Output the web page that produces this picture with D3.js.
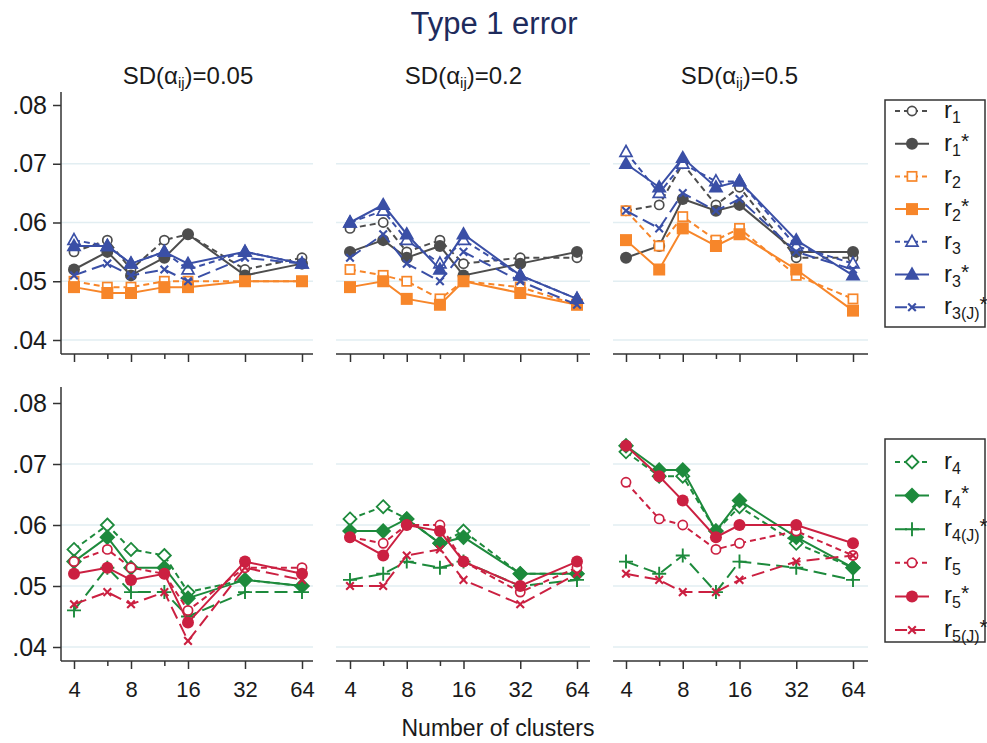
<!DOCTYPE html>
<html><head><meta charset="utf-8">
<script src="https://cdn.jsdelivr.net/npm/d3@7"></script>
<style>body{margin:0;background:#fff}svg{display:block;font-family:"Liberation Sans",Arial,sans-serif}</style>
</head><body><svg id="c" width="987" height="743"></svg>
<script>
// ---------- data ----------
const clusters = [4, 6, 8, 12, 16, 32, 64];
const majorTicks = [4, 8, 16, 32, 64];
const minorTicks = [6, 12];
const xTickLabels = ["4", "8", "16", "32", "64"];
const yTicks = [0.04, 0.05, 0.06, 0.07, 0.08];
const yTickLabels = [".04", ".05", ".06", ".07", ".08"];
const gridTicks = [0.04, 0.05, 0.06, 0.07];
const sdLabels = ["0.05", "0.2", "0.5"];
const chartTitle = "Type 1 error";
const xTitle = "Number of clusters";

// each series: [SD=0.05, SD=0.2, SD=0.5]
const r1 = [[.055,.057,.052,.057,.058,.052,.054],[.059,.060,.055,.057,.053,.054,.054],[.062,.063,.070,.063,.066,.054,.054]];
const r1s = [[.052,.055,.051,.054,.058,.051,.053],[.055,.057,.054,.056,.051,.053,.055],[.054,.056,.064,.062,.063,.055,.055]];
const r2 = [[.050,.049,.049,.050,.050,.050,.050],[.052,.051,.050,.047,.050,.049,.046],[.062,.056,.061,.057,.059,.051,.047]];
const r2s = [[.049,.048,.048,.049,.049,.050,.050],[.049,.050,.047,.046,.050,.048,.046],[.057,.052,.059,.056,.058,.052,.045]];
const r3 = [[.057,.056,.053,.055,.052,.055,.053],[.060,.062,.057,.053,.057,.051,.047],[.072,.065,.070,.067,.067,.056,.053]];
const r3s = [[.056,.056,.053,.055,.053,.055,.053],[.060,.063,.058,.052,.058,.051,.047],[.070,.066,.071,.066,.067,.057,.051]];
const r3J = [[.051,.053,.051,.052,.050,.054,.053],[.054,.058,.053,.050,.055,.050,.046],[.062,.059,.065,.062,.064,.055,.052]];
const r4 = [[.056,.060,.056,.055,.049,.051,.050],[.061,.063,.061,.057,.059,.052,.052],[.072,.068,.068,.059,.063,.057,.053]];
const r4s = [[.054,.058,.053,.053,.048,.051,.050],[.059,.059,.061,.057,.058,.052,.052],[.073,.069,.069,.059,.064,.058,.053]];
const r4J = [[.046,.053,.049,.049,.045,.049,.049],[.051,.052,.054,.053,.054,.050,.051],[.054,.052,.055,.049,.054,.053,.051]];
const r5 = [[.054,.056,.053,.052,.046,.053,.053],[.058,.057,.060,.060,.054,.049,.053],[.067,.061,.060,.056,.057,.059,.055]];
const r5s = [[.052,.053,.051,.052,.044,.054,.052],[.058,.055,.060,.059,.054,.050,.054],[.073,.068,.064,.058,.060,.060,.057]];
const r5J = [[.047,.049,.047,.049,.041,.053,.051],[.050,.050,.055,.056,.051,.047,.052],[.052,.051,.049,.049,.051,.054,.055]];

// ---------- styles ----------
const C = {gray:"#4d4d4d", orange:"#f7862a", blue:"#3a4fa6", green:"#1d8a3c", red:"#cb2041"};
const SHORT = "6,4", LONG = "13,6";
const topSeries = [
  {data:r1,  sub:"1", star:false, color:C.gray,   marker:"ocircle",  dash:SHORT},
  {data:r1s, sub:"1", star:true,  color:C.gray,   marker:"circle",   dash:null},
  {data:r2,  sub:"2", star:false, color:C.orange, marker:"osquare",  dash:SHORT},
  {data:r2s, sub:"2", star:true,  color:C.orange, marker:"square",   dash:null},
  {data:r3,  sub:"3", star:false, color:C.blue,   marker:"otri",     dash:SHORT},
  {data:r3s, sub:"3", star:true,  color:C.blue,   marker:"tri",      dash:null},
  {data:r3J, sub:"3(J)", star:true, color:C.blue, marker:"x",        dash:LONG}
];
const botSeries = [
  {data:r4,  sub:"4", star:false, color:C.green, marker:"odiamond", dash:SHORT},
  {data:r4s, sub:"4", star:true,  color:C.green, marker:"diamond",  dash:null},
  {data:r4J, sub:"4(J)", star:true, color:C.green, marker:"plus",   dash:LONG},
  {data:r5,  sub:"5", star:false, color:C.red,   marker:"ocircle",  dash:SHORT},
  {data:r5s, sub:"5", star:true,  color:C.red,   marker:"circle",   dash:null},
  {data:r5J, sub:"5(J)", star:true, color:C.red, marker:"x",        dash:LONG}
];

// ---------- layout ----------
const svg = d3.select("#c");
const colData = [[74,302],[350,577],[626,853]];
const colAxis = [[61,313],[336,590],[613,868]];
const rows = [
  {range:[340,105], axisY:354, yTop:92,  series:topSeries, labels:false},
  {range:[647,403], axisY:661, yTop:387, series:botSeries, labels:true}
];
const TXT = "#1a1a1a";
const FONT = "Liberation Sans, Arial, sans-serif";

function drawMarker(g, type, color, x, y) {
  const s = g.append("g").attr("transform", `translate(${x},${y})`);
  switch (type) {
    case "circle": s.append("circle").attr("r",6).attr("fill",color); break;
    case "ocircle": s.append("circle").attr("r",4.6).attr("fill","#fff").attr("stroke",color).attr("stroke-width",1.7); break;
    case "square": s.append("rect").attr("x",-6).attr("y",-6).attr("width",12).attr("height",12).attr("fill",color); break;
    case "osquare": s.append("rect").attr("x",-4.6).attr("y",-4.6).attr("width",9.2).attr("height",9.2).attr("fill","#fff").attr("stroke",color).attr("stroke-width",1.7); break;
    case "tri": s.append("path").attr("d","M0,-8L7.5,5.2L-7.5,5.2Z").attr("fill",color); break;
    case "otri": s.append("path").attr("d","M0,-6.5L6,4.3L-6,4.3Z").attr("fill","#fff").attr("stroke",color).attr("stroke-width",1.7); break;
    case "diamond": s.append("path").attr("d","M0,-8L8,0L0,8L-8,0Z").attr("fill",color); break;
    case "odiamond": s.append("path").attr("d","M0,-6.5L6.5,0L0,6.5L-6.5,0Z").attr("fill","#fff").attr("stroke",color).attr("stroke-width",1.8); break;
    case "plus": s.append("path").attr("d","M-7,0H7M0,-7V7").attr("stroke",color).attr("stroke-width",1.9).attr("fill","none"); break;
    case "x": s.append("path").attr("d","M-3.8,-3.8L3.8,3.8M-3.8,3.8L3.8,-3.8").attr("stroke",color).attr("stroke-width",2.1).attr("fill","none"); break;
  }
}

// title
svg.append("text").attr("x",494).attr("y",34).attr("text-anchor","middle")
  .attr("font-size",31).attr("fill","#1e2b5c").text(chartTitle);

// subtitles
colData.forEach((cd,i)=>{
  const t = svg.append("text").attr("x",(cd[0]+cd[1])/2).attr("y",84).attr("text-anchor","middle")
    .attr("font-size",24).attr("fill",TXT);
  t.append("tspan").text("SD(α");
  t.append("tspan").attr("font-size",15).attr("dy",4).text("ij");
  t.append("tspan").attr("dy",-4).text(")=" + sdLabels[i]);
});

rows.forEach((row, ri)=>{
  const y = d3.scaleLinear().domain([0.04,0.08]).range(row.range);
  colData.forEach((cd, ci)=>{
    const x = d3.scaleLog().base(2).domain([4,64]).range(cd);
    const g = svg.append("g");
    const [ax0, ax1] = colAxis[ci];
    // grid
    g.selectAll("line.grid").data(gridTicks).join("line")
      .attr("x1",ax0).attr("x2",ax1).attr("y1",d=>y(d)).attr("y2",d=>y(d))
      .attr("stroke","#e2eef2").attr("stroke-width",1.5);
    // x axis line
    g.append("line").attr("x1",ax0).attr("x2",ax1).attr("y1",row.axisY).attr("y2",row.axisY)
      .attr("stroke","#333").attr("stroke-width",1.5);
    const axMaj = d3.axisBottom(x).tickValues(majorTicks).tickSize(8).tickPadding(12)
      .tickFormat((d,i)=> row.labels ? xTickLabels[i] : "");
    const ga = g.append("g").attr("transform",`translate(0,${row.axisY})`).call(axMaj);
    ga.select(".domain").remove();
    ga.selectAll("line").attr("stroke","#333").attr("stroke-width",1.5);
    ga.selectAll("text").attr("font-size",22).attr("fill",TXT).attr("font-family",FONT);
    const axMin = d3.axisBottom(x).tickValues(minorTicks).tickSize(5).tickFormat("");
    const gm = g.append("g").attr("transform",`translate(0,${row.axisY})`).call(axMin);
    gm.select(".domain").remove();
    gm.selectAll("line").attr("stroke","#333").attr("stroke-width",1.5);
    // y axis (first column only)
    if (ci === 0) {
      g.append("line").attr("x1",ax0).attr("x2",ax0).attr("y1",row.yTop).attr("y2",row.axisY)
        .attr("stroke","#333").attr("stroke-width",1.5);
      const ay = d3.axisLeft(y).tickValues(yTicks).tickSize(8).tickPadding(6)
        .tickFormat((d,i)=>yTickLabels[i]);
      const gy = g.append("g").attr("transform",`translate(${ax0},0)`).call(ay);
      gy.select(".domain").remove();
      gy.selectAll("line").attr("stroke","#333").attr("stroke-width",1.5);
      gy.selectAll("text").attr("font-size",25).attr("fill",TXT).attr("font-family",FONT);
    }
    // series
    const line = d3.line().x((d,i)=>x(clusters[i])).y(d=>y(d));
    row.series.forEach(s=>{
      const vals = s.data[ci];
      g.append("path").attr("d", line(vals)).attr("fill","none")
        .attr("stroke", s.color).attr("stroke-width", 2)
        .attr("stroke-dasharray", s.dash);
      vals.forEach((v,i)=>drawMarker(g, s.marker, s.color, x(clusters[i]), y(v)));
    });
  });
});

// x title
svg.append("text").attr("x",498).attr("y",736).attr("text-anchor","middle")
  .attr("font-size",23).attr("fill",TXT).text(xTitle);

// legends
function legend(series, top, bottom, y0, step) {
  const g = svg.append("g");
  g.append("rect").attr("x",885).attr("y",top).attr("width",100).attr("height",bottom-top)
    .attr("fill","#fff").attr("stroke","#333").attr("stroke-width",1.5);
  series.forEach((s,i)=>{
    const yy = y0 + i*step;
    g.append("line").attr("x1",895).attr("x2",929).attr("y1",yy).attr("y2",yy)
      .attr("stroke",s.color).attr("stroke-width",2)
      .attr("stroke-dasharray", s.dash ? (s.dash===LONG ? "12,6" : "5,4") : null);
    drawMarker(g, s.marker, s.color, 912, yy);
    const t = g.append("text").attr("x",944).attr("y",yy+7).attr("font-size",24).attr("fill",TXT);
    t.append("tspan").text("r");
    t.append("tspan").attr("font-size",16).attr("dy",5).text(s.sub);
    if (s.star) t.append("tspan").attr("font-size",21).attr("dy",-8).text("*");
  });
}
legend(topSeries, 100, 327, 111, 32.7);
legend(botSeries, 439, 642, 462, 33.6);
</script></body></html>
